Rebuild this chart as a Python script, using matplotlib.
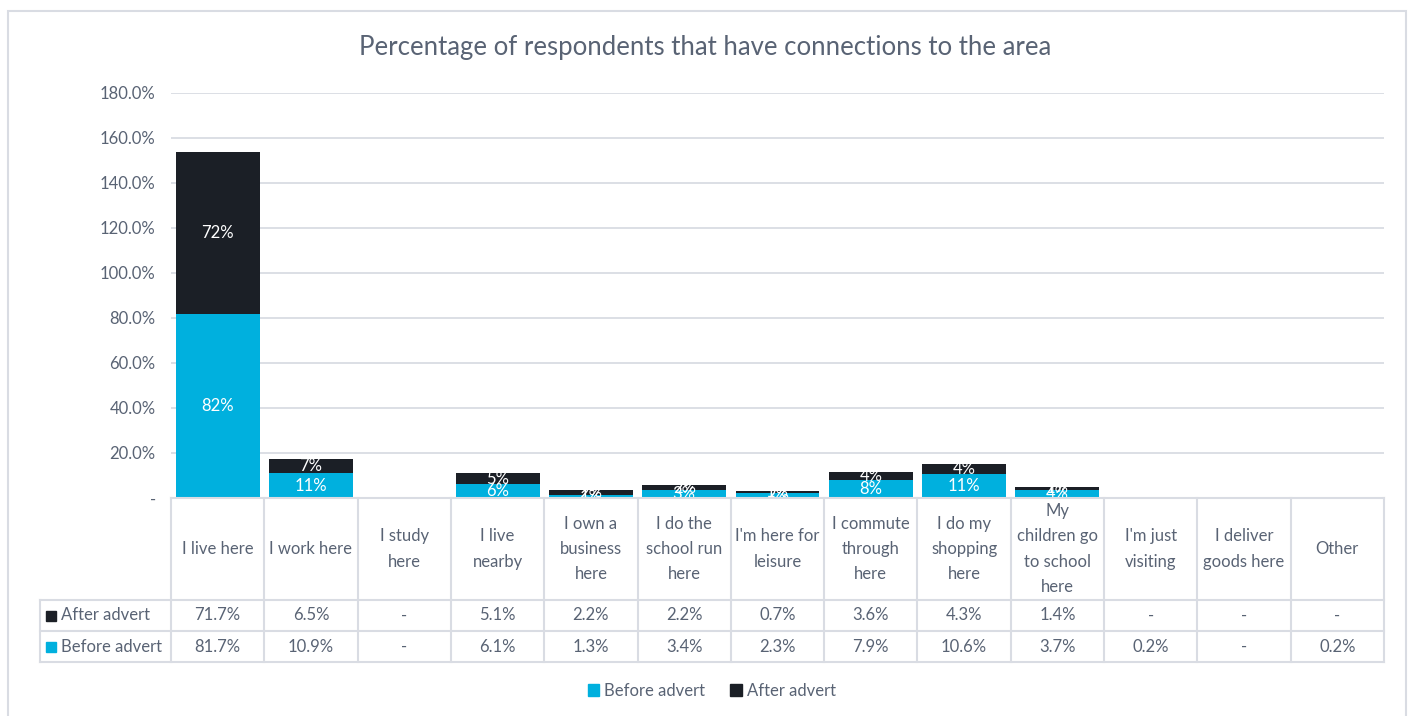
import numpy as np
import matplotlib.pyplot as plt
from matplotlib.patches import Patch, Rectangle

plt.rcParams['font.family'] = ['Lato', 'DejaVu Sans']

categories = ["I live here", "I work here", "I study\nhere", "I live\nnearby",
              "I own a\nbusiness\nhere", "I do the\nschool run\nhere",
              "I'm here for\nleisure", "I commute\nthrough\nhere",
              "I do my\nshopping\nhere", "My\nchildren go\nto school\nhere",
              "I'm just\nvisiting", "I deliver\ngoods here", "Other"]
before_advert = [81.7, 10.9, 0, 6.1, 1.3, 3.4, 2.3, 7.9, 10.6, 3.7, 0.2, 0, 0.2]
after_advert = [71.7, 6.5, 0, 5.1, 2.2, 2.2, 0.7, 3.6, 4.3, 1.4, 0, 0, 0]
yticks = [0, 20, 40, 60, 80, 100, 120, 140, 160, 180]

BLUE = '#00B0DE'
DARK = '#1B1F26'
TXT = '#596374'
GRID = '#D9DCE3'
FS = 12

W, H = 1410, 716
fig = plt.figure(figsize=(W / 100, H / 100), dpi=100)

# outer chart border (bottom edge runs off the picture)
fig.patches.append(Rectangle((8 / W, -0.02), 1398 / W, (H - 11) / H + 0.02,
                             transform=fig.transFigure, fill=False, edgecolor=GRID, lw=1.5))

def box(l, t, r, b):
    return [l / W, 1 - b / H, (r - l) / W, (b - t) / H]

ax = fig.add_axes(box(171, 92.5, 1384, 498))
x = np.arange(len(categories))
bef = np.array(before_advert)
aft = np.array(after_advert)

ax.bar(x, bef, width=0.9, color=BLUE, zorder=3)
ax.bar(x, aft, width=0.9, bottom=bef, color=DARK, zorder=3)

def lab(v):
    return f"{int(v + 0.5)}%"

for i in range(len(x)):
    ax.text(x[i], bef[i] / 2, lab(bef[i]), ha='center', va='center',
            color='white', fontsize=FS, zorder=4)
    ax.text(x[i], bef[i] + aft[i] / 2, lab(aft[i]), ha='center', va='center',
            color='white', fontsize=FS, zorder=4)

ax.set_xlim(-0.5, len(categories) - 0.5)
ax.set_ylim(0, 180)
ax.set_yticks(yticks)
ax.set_yticklabels(['-' if v == 0 else f'{v:.1f}%' for v in yticks])
ax.tick_params(axis='y', length=0, pad=11, labelsize=FS, labelcolor=TXT)
ax.set_xticks([])
ax.grid(axis='y', color=GRID, lw=1.3, zorder=0)
for s in ax.spines.values():
    s.set_visible(False)

fig.text(0.5, 1 - 47 / H, 'Percentage of respondents that have connections to the area',
         ha='center', va='center', fontsize=18.5, color=TXT)

# data table
tx = fig.add_axes(box(40, 498, 1384, 662))
left = -0.5 - 131 / 93.3
tx.set_xlim(left, len(categories) - 0.5)
tx.set_ylim(164, 0)
tx.axis('off')
lc = dict(color=GRID, lw=1.5, clip_on=False)
tx.plot([-0.5, 12.5], [0, 0], **lc)
for yy in [102, 133, 164]:
    tx.plot([left, 12.5], [yy, yy], **lc)
tx.plot([left, left], [102, 164], **lc)
for k in range(len(categories) + 1):
    tx.plot([k - 0.5, k - 0.5], [0, 164], **lc)

def cell(v):
    return '-' if v == 0 else f'{v:.1f}%'

for i, c in enumerate(categories):
    tx.text(i, 51, c, ha='center', va='center', fontsize=FS, color=TXT, linespacing=1.7)
    tx.text(i, 117.5, cell(aft[i]), ha='center', va='center', fontsize=FS, color=TXT)
    tx.text(i, 148.5, cell(bef[i]), ha='center', va='center', fontsize=FS, color=TXT)

for yy, name, col in [(117.5, 'After advert', DARK), (148.5, 'Before advert', BLUE)]:
    tx.add_patch(Rectangle((left + 6 / 93.3, yy - 5), 10 / 93.3, 10, color=col, clip_on=False))
    tx.text(left + 21 / 93.3, yy, name, ha='left', va='center', fontsize=FS, color=TXT)

handles = [Patch(color=BLUE, label='Before advert'), Patch(color=DARK, label='After advert')]
fig.legend(handles=handles, loc='center', bbox_to_anchor=(712 / W, 1 - 691 / H), ncol=2,
           frameon=False, fontsize=FS, labelcolor=TXT, handlelength=0.7, handleheight=0.7,
           handletextpad=0.3, columnspacing=1.5)

fig.savefig('out.png', dpi=100)
